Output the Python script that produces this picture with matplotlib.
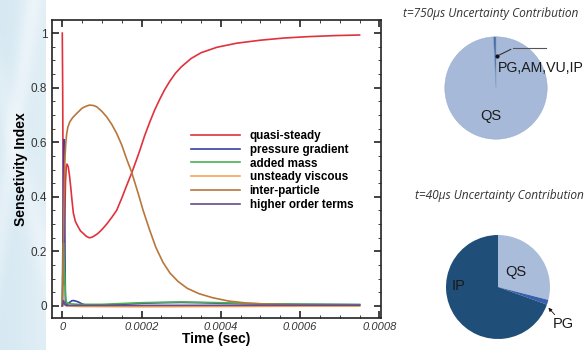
import numpy as np
import matplotlib
matplotlib.use("Agg")
import matplotlib.pyplot as plt
from matplotlib.ticker import MultipleLocator

plt.rcParams['font.family'] = ['Liberation Sans', 'DejaVu Sans']

# ---- sensitivity histories (time in microseconds) ----
t_qs = [0, 1, 2, 3, 4, 5, 6, 8, 10, 12, 15, 18, 21, 25, 28, 33, 40, 46, 53, 60,
        68, 75, 82, 90, 100, 112, 125, 137, 150, 162, 175, 187, 196, 208, 221,
        233, 246, 258, 271, 285, 300, 325, 350, 390, 440, 500, 560, 620, 690,
        750]
v_qs = [1.0, 0.80, 0.45, 0.20, 0.08, 0.15, 0.30, 0.45, 0.51, 0.52, 0.51, 0.48,
        0.44, 0.38, 0.34, 0.31, 0.29, 0.275, 0.266, 0.256, 0.25, 0.252, 0.258,
        0.266, 0.28, 0.30, 0.325, 0.35, 0.395, 0.44, 0.487, 0.535, 0.572,
        0.625, 0.675, 0.718, 0.758, 0.792, 0.823, 0.852, 0.876, 0.907, 0.928,
        0.948, 0.963, 0.974, 0.982, 0.987, 0.991, 0.993]

t_pg = [0, 2, 4, 6, 8, 12, 16, 20, 24, 28, 34, 40, 48, 55, 70, 100, 150, 200,
        250, 300, 350, 400, 500, 600, 750]
v_pg = [0, 0.30, 0.61, 0.30, 0.01, 0.005, 0.010, 0.015, 0.019, 0.020, 0.018,
        0.015, 0.009, 0.005, 0.002, 0.003, 0.006, 0.010, 0.012, 0.013, 0.012,
        0.010, 0.008, 0.006, 0.005]

t_am = [0, 1, 3, 5, 8, 10, 14, 20, 40, 100, 200, 300, 400, 500, 750]
v_am = [0, 0.10, 0.23, 0.15, 0.04, 0.015, 0.010, 0.008, 0.006, 0.006, 0.012,
        0.015, 0.012, 0.008, 0.005]

t_uv = [0, 5, 10, 50, 200, 400, 750]
v_uv = [0, 0.01, 0.0, -0.002, -0.003, -0.002, 0.0]

t_ip = [0, 2, 4, 5.5, 7, 9, 11, 14, 19, 26, 36, 50, 60, 68, 78, 87, 100, 112,
        125, 137, 150, 162, 175, 192, 204, 220, 236, 254, 272, 292, 315, 345,
        380, 420, 470, 530, 620, 750]
v_ip = [0, 0.10, 0.35, 0.47, 0.55, 0.60, 0.63, 0.655, 0.675, 0.69, 0.705,
        0.725, 0.732, 0.736, 0.735, 0.73, 0.713, 0.693, 0.665, 0.633, 0.59,
        0.54, 0.49, 0.41, 0.35, 0.28, 0.215, 0.16, 0.12, 0.09, 0.065, 0.045,
        0.03, 0.018, 0.01, 0.006, 0.003, 0.002]

t_ho = [0, 3, 6, 10, 750]
v_ho = [0, 0.02, 0.005, 0.002, 0.003]

series = [
    ("quasi-steady", t_qs, v_qs, "#e0323c"),
    ("pressure gradient", t_pg, v_pg, "#3a3fa8"),
    ("added mass", t_am, v_am, "#4cb050"),
    ("unsteady viscous", t_uv, v_uv, "#f4a460"),
    ("inter-particle", t_ip, v_ip, "#b8763a"),
    ("higher order terms", t_ho, v_ho, "#6a4c8a"),
]

# ---- uncertainty contributions ----
late_labels = ["QS", "PG,AM,VU,IP"]
late_share = [0.992, 0.008]
early_labels = ["QS", "PG", "IP"]
early_share = [0.29, 0.015, 0.695]

W, H = 586, 350
fig = plt.figure(figsize=(W / 100, H / 100), dpi=100)
fig.patch.set_facecolor("white")

# pale slide backdrop on the left edge
bg = fig.add_axes([0, 0, 46 / W, 1])
gx = np.linspace(0, 1, 60)
gy = np.linspace(0, 1, 200)
GX, GY = np.meshgrid(gx, gy)
band = np.exp(-((GX * 0.8 - (GY - 0.35) * 0.9) ** 2) / 0.03)
band2 = np.exp(-((GX * 0.6 + (GY - 0.75) * 1.2) ** 2) / 0.02)
light = np.clip(0.35 * band + 0.25 * band2 + 0.25 * GX, 0, 1)
base = np.array([0.84, 0.91, 0.95])
rgb = base[None, None, :] * (1 - light[..., None]) + light[..., None]
bg.imshow(rgb, aspect="auto", extent=[0, 1, 0, 1], origin="lower")
bg.axis("off")


def px_box(x0, y0, x1, y1):
    return [x0 / W, 1 - y1 / H, (x1 - x0) / W, (y1 - y0) / H]


ax = fig.add_axes(px_box(51.5, 20, 381, 318))
for name, t, v, c in series:
    ax.plot(np.array(t) * 1e-6, v, color=c, lw=1.2, label=name,
            solid_joinstyle="round")

ax.set_xlim(-0.0000272, 0.000804)
ax.set_ylim(-0.044, 1.048)
ax.xaxis.set_minor_locator(MultipleLocator(0.00005))
ax.yaxis.set_minor_locator(MultipleLocator(0.05))
ax.set_xticks([0, 0.0002, 0.0004, 0.0006, 0.0008])
ax.set_xticklabels(["0", "0.0002", "0.0004", "0.0006", "0.0008"],
                   fontstyle="italic", fontsize=8, color="#333333")
ax.set_yticks([0, 0.2, 0.4, 0.6, 0.8, 1.0])
ax.set_yticklabels(["0", "0.2", "0.4", "0.6", "0.8", "1"], fontsize=8.5,
                   color="#333333")
ax.tick_params(which="both", direction="in", top=True, right=True,
               color="#222222")
ax.tick_params(which="major", length=5, width=1.2, pad=3)
ax.tick_params(which="minor", length=2.5, width=0.6)
for s in ax.spines.values():
    s.set_linewidth(1.2)
    s.set_color("#222222")
ax.set_xlabel("Time (sec)", fontsize=10, fontweight="bold", labelpad=0)
ax.set_ylabel("Sensetivity Index", fontsize=10, fontweight="bold", labelpad=2)

leg = ax.legend(loc="upper left", bbox_to_anchor=(185 / W, 1 - 124 / H),
                bbox_transform=fig.transFigure, frameon=False,
                prop={"weight": "bold", "size": 8.4}, handlelength=4.2,
                handletextpad=0.85, labelspacing=0.16, borderpad=0)

# ---- pie at t = 750 us ----
pa = fig.add_axes(px_box(432, 24, 560, 152))
wedges, _ = pa.pie(late_share, colors=["#a6b9d8", "#4a6fa5"], startangle=90,
                   counterclock=False,
                   wedgeprops={"linewidth": 0.3, "edgecolor": "#8fa6c8"})
pa.set_aspect("equal")
pa.text(-0.1, -0.55, late_labels[0], ha="center", va="center", fontsize=10.5,
        color="#1a1a1a")
w = wedges[1]
ang = np.deg2rad(0.5 * (w.theta1 + w.theta2))
dot = (0.62 * np.cos(ang) + 0.03, 0.62 * np.sin(ang))
pa.plot(*dot, marker="o", ms=2, color="#111111")
pa.annotate("", xy=dot, xytext=(0.34, 0.78),
            arrowprops=dict(arrowstyle="-", color="#333333", lw=0.8))
pa.plot([0.34, 0.97], [0.78, 0.78], color="#555555", lw=0.8, clip_on=False)
pa.text(0.03, 0.40, late_labels[1], ha="left", va="center", fontsize=10.2,
        color="#1a1a1a", clip_on=False)
fig.text(403 / W, 1 - 14 / H, "t=750\u03bcs Uncertainty Contribution",
         fontstyle="italic", fontsize=8.6, color="#333333", va="center",
         family=["Open Sans", "DejaVu Sans"])

# ---- pie at t = 40 us ----
pb = fig.add_axes(px_box(433, 222, 563, 352))
pb.pie(early_share, colors=["#a9bcd9", "#3a5fae", "#1f4e79"], startangle=90,
       counterclock=False, wedgeprops={"linewidth": 0})
pb.set_aspect("equal")
pb.text(0.35, 0.28, early_labels[0], ha="center", va="center", fontsize=10.5,
        color="#1a1a1a")
pb.text(-0.75, 0.02, early_labels[2], ha="center", va="center", fontsize=10.5,
        color="#1a1a1a")
pb.annotate(early_labels[1], xy=(0.97, -0.40), xytext=(1.06, -0.72),
            fontsize=10.5, color="#1a1a1a", ha="left", va="center",
            annotation_clip=False,
            arrowprops=dict(arrowstyle="-|>", color="#111111", lw=0.6,
                            mutation_scale=5, shrinkA=7, shrinkB=0))
fig.text(415 / W, 1 - 195 / H, "t=40\u03bcs Uncertainty Contribution",
         fontstyle="italic", fontsize=8.6, color="#333333", va="center",
         family=["Open Sans", "DejaVu Sans"])

fig.savefig("out.png", dpi=100, facecolor="white")
